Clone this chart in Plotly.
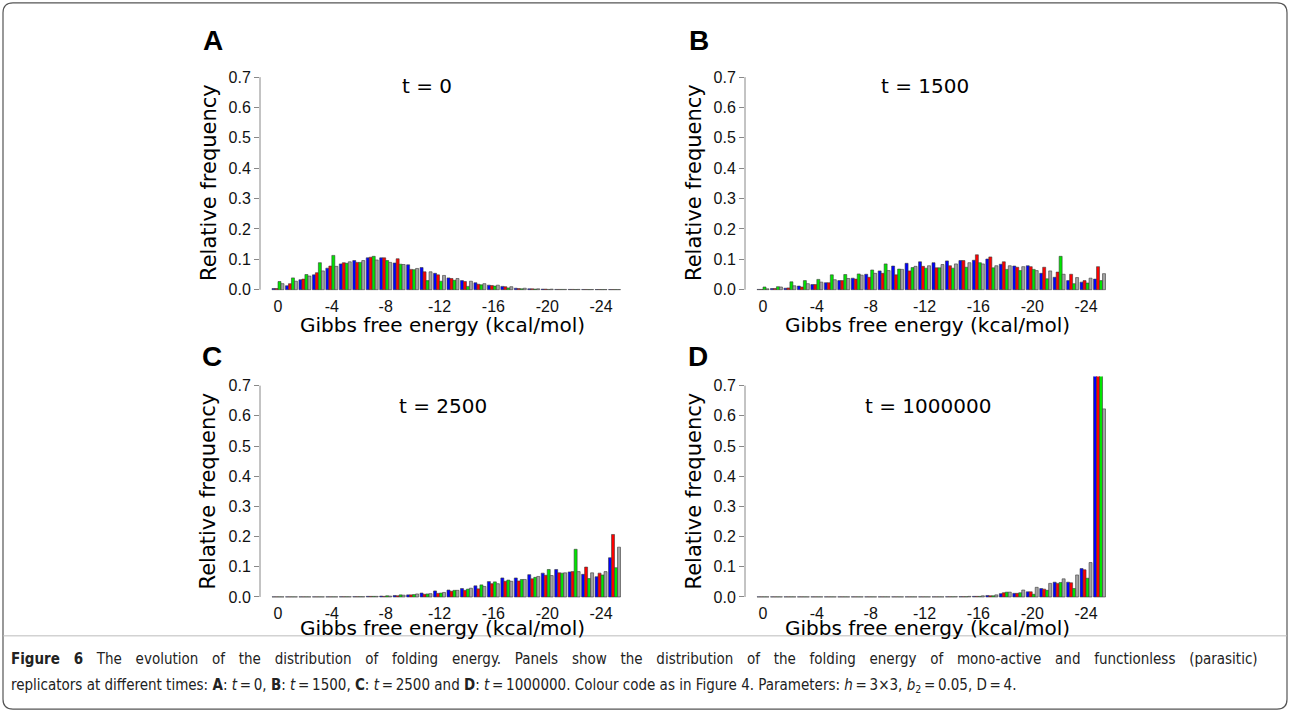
import plotly.graph_objects as go

# ---------------- data ----------------
energy = ["0", "-1", "-2", "-3", "-4", "-5", "-6", "-7", "-8", "-9", "-10", "-11", "-12",
          "-13", "-14", "-15", "-16", "-17", "-18", "-19", "-20", "-21", "-22", "-23", "-24", "-25"]
tick_vals = ["0", "-4", "-8", "-12", "-16", "-20", "-24"]
tick_text = ["0", "-4", "-8", "-12", "-16", "-20", "-24"]
series_names = ["blue", "red", "green", "gray"]
series_colors = ["#0000FF", "#FF0000", "#00E600", "#A3A3A3"]

A_blue = [0.004, 0.013, 0.033, 0.049, 0.071, 0.085, 0.096, 0.105, 0.105, 0.088, 0.082, 0.073, 0.054,
          0.039, 0.030, 0.023, 0.015, 0.011, 0.005, 0.003, 0.002, 0.001, 0.001, 0.0008, 0.0006, 0.0005]
A_red = [0.004, 0.020, 0.035, 0.056, 0.078, 0.089, 0.090, 0.107, 0.105, 0.102, 0.067, 0.059, 0.049,
         0.037, 0.027, 0.018, 0.014, 0.010, 0.004, 0.003, 0.002, 0.001, 0.001, 0.0008, 0.0006, 0.0005]
A_green = [0.027, 0.039, 0.050, 0.089, 0.113, 0.087, 0.090, 0.110, 0.096, 0.084, 0.066, 0.030, 0.028,
           0.031, 0.011, 0.016, 0.012, 0.006, 0.003, 0.002, 0.001, 0.001, 0.0008, 0.0006, 0.0005, 0.0005]
A_gray = [0.020, 0.028, 0.045, 0.062, 0.077, 0.092, 0.096, 0.098, 0.090, 0.083, 0.070, 0.059, 0.047,
          0.037, 0.028, 0.020, 0.015, 0.010, 0.005, 0.003, 0.002, 0.001, 0.001, 0.0008, 0.0006, 0.0005]

B_blue = [0.001, 0.004, 0.005, 0.012, 0.017, 0.023, 0.030, 0.038, 0.051, 0.062, 0.078, 0.087, 0.092,
          0.089, 0.095, 0.096, 0.097, 0.101, 0.084, 0.078, 0.079, 0.054, 0.041, 0.030, 0.025, 0.035]
B_red = [0.001, 0.004, 0.006, 0.009, 0.017, 0.023, 0.030, 0.035, 0.041, 0.054, 0.049, 0.062, 0.077,
         0.072, 0.079, 0.096, 0.115, 0.108, 0.092, 0.074, 0.076, 0.074, 0.058, 0.051, 0.030, 0.076]
B_green = [0.009, 0.010, 0.026, 0.030, 0.034, 0.049, 0.050, 0.052, 0.065, 0.085, 0.068, 0.073, 0.071,
           0.072, 0.071, 0.074, 0.089, 0.072, 0.067, 0.063, 0.067, 0.036, 0.110, 0.020, 0.022, 0.030]
B_gray = [0.003, 0.009, 0.013, 0.020, 0.025, 0.033, 0.037, 0.048, 0.054, 0.063, 0.067, 0.077, 0.079,
          0.083, 0.085, 0.089, 0.085, 0.079, 0.079, 0.076, 0.063, 0.062, 0.051, 0.040, 0.038, 0.053]

C_blue = [0.0005, 0.0005, 0.0005, 0.0005, 0.0006, 0.0008, 0.001, 0.002, 0.003, 0.005, 0.007, 0.013, 0.020,
          0.023, 0.028, 0.037, 0.051, 0.063, 0.063, 0.074, 0.079, 0.091, 0.083, 0.075, 0.067, 0.130]
C_red = [0.0005, 0.0005, 0.0005, 0.0005, 0.0006, 0.0008, 0.001, 0.002, 0.002, 0.004, 0.007, 0.009, 0.012,
         0.019, 0.022, 0.027, 0.044, 0.052, 0.053, 0.060, 0.072, 0.080, 0.084, 0.099, 0.079, 0.207]
C_green = [0.0005, 0.0005, 0.0005, 0.0005, 0.0006, 0.0008, 0.001, 0.002, 0.004, 0.007, 0.008, 0.010, 0.013,
           0.022, 0.026, 0.040, 0.050, 0.056, 0.058, 0.065, 0.091, 0.079, 0.158, 0.061, 0.073, 0.097]
C_gray = [0.0005, 0.0005, 0.0005, 0.0005, 0.0006, 0.0008, 0.001, 0.002, 0.003, 0.006, 0.010, 0.011, 0.015,
          0.022, 0.029, 0.035, 0.044, 0.052, 0.058, 0.068, 0.071, 0.080, 0.084, 0.080, 0.084, 0.165]

D_blue = [0.0005, 0.0005, 0.0005, 0.0005, 0.0005, 0.0005, 0.0005, 0.0005, 0.0005, 0.0005, 0.0005, 0.0005, 0.0005,
          0.0005, 0.0008, 0.001, 0.002, 0.005, 0.011, 0.012, 0.017, 0.028, 0.049, 0.049, 0.094, 0.760]
D_red = [0.0005, 0.0005, 0.0005, 0.0005, 0.0005, 0.0005, 0.0005, 0.0005, 0.0005, 0.0005, 0.0005, 0.0005, 0.0005,
         0.0005, 0.0008, 0.001, 0.002, 0.004, 0.014, 0.012, 0.017, 0.026, 0.045, 0.047, 0.090, 0.760]
D_green = [0.0005, 0.0005, 0.0005, 0.0005, 0.0005, 0.0005, 0.0005, 0.0005, 0.0005, 0.0005, 0.0005, 0.0005, 0.0005,
           0.0005, 0.0008, 0.001, 0.002, 0.004, 0.016, 0.014, 0.009, 0.022, 0.048, 0.028, 0.062, 0.760]
D_gray = [0.0005, 0.0005, 0.0005, 0.0005, 0.0005, 0.0005, 0.0005, 0.0005, 0.0005, 0.0005, 0.0005, 0.0005, 0.0005,
          0.0005, 0.001, 0.002, 0.004, 0.007, 0.016, 0.023, 0.032, 0.045, 0.060, 0.073, 0.114, 0.623]

panel_letters = ["A", "B", "C", "D"]
panel_times = ["t = 0", "t = 1500", "t = 2500", "t = 1000000"]
panel_data = [
    [A_blue, A_red, A_green, A_gray],
    [B_blue, B_red, B_green, B_gray],
    [C_blue, C_red, C_green, C_gray],
    [D_blue, D_red, D_green, D_gray],
]

x_title = "Gibbs free energy (kcal/mol)"
y_title = "Relative frequency"
y_ticks = [0.0, 0.1, 0.2, 0.3, 0.4, 0.5, 0.6, 0.7]

# caption words (line 1 is justified in the reference)
cap1_words = ["<b>Figure</b>", "<b>6</b>", "The", "evolution", "of", "the", "distribution", "of", "folding",
              "energy.", "Panels", "show", "the", "distribution", "of", "the", "folding", "energy", "of",
              "mono-active", "and", "functionless", "(parasitic)"]
thin = "\u2009"
cap2 = ("replicators at different times: <b>A</b>: <i>t</i>" + thin + "=" + thin + "0, <b>B</b>: <i>t</i>"
        + thin + "=" + thin + "1500, <b>C</b>: <i>t</i>" + thin + "=" + thin + "2500 and <b>D</b>: <i>t</i>"
        + thin + "=" + thin + "1000000. Colour code as in Figure 4. Parameters: <i>h</i>" + thin + "="
        + thin + "3×3, <i>b</i><sub>2</sub>" + thin + "=" + thin + "0.05, D" + thin + "=" + thin + "4.")

# ---------------- layout geometry (pixels) ----------------
W, H = 1290, 720
x_range = [-1.337, 25.6]
y_range = [-0.003, 0.73]
panel_x_px = [(260, 622.6), (745, 1107.6), (260, 622.6), (745, 1107.6)]
panel_y_px = [(68.8, 293.9), (68.8, 293.9), (380.8, 604.6), (380.8, 604.6)]
letter_pos = [(213, 41), (699, 41), (212, 361), (698, 361)]
time_pos = [(427, 87), (925, 87), (443, 411), (928, 411)]
ytitle_pos = [(209, 185), (694, 185), (208, 497), (694, 497)]
xtitle_pos = [(442, 329), (927, 329), (442, 635), (927, 635)]

fig = go.Figure()
annotations = []
shapes = []

for i in range(4):
    sfx = "" if i == 0 else str(i + 1)
    xa, ya = "x" + sfx, "y" + sfx
    for s in range(4):
        fig.add_trace(go.Bar(
            x=energy, y=panel_data[i][s], name=series_names[s],
            marker=dict(color=series_colors[s], line=dict(color="#3a3a3a", width=0.6)),
            xaxis=xa, yaxis=ya, showlegend=False, offsetgroup=str(s),
        ))
    x0, x1 = panel_x_px[i]
    yt, yb = panel_y_px[i]
    fig.layout["xaxis" + sfx] = dict(
        domain=[x0 / W, x1 / W], range=x_range, anchor=ya, type="category",
        categoryorder="array", categoryarray=energy,
        showline=False, showgrid=False, zeroline=False, ticks="",
        tickmode="array", tickvals=tick_vals, ticktext=tick_text, ticklabelstandoff=4,
        tickfont=dict(family="Liberation Sans, Arial", size=16, color="#111"),
    )
    fig.layout["yaxis" + sfx] = dict(
        domain=[1 - yb / H, 1 - yt / H], range=y_range, anchor=xa,
        showline=False, showgrid=False, zeroline=False,
        ticks="outside", ticklen=5, tickwidth=1, tickcolor="#888",
        tickmode="array", tickvals=y_ticks, tickformat=".1f",
        tickfont=dict(family="Liberation Sans, Arial", size=16, color="#111"),
    )
    # y-axis line spanning 0 .. 0.7 only
    shapes.append(dict(type="line", xref=xa + " domain", yref=ya,
                       x0=0, x1=0, y0=0, y1=0.7, line=dict(color="#888", width=1)))
    lx, ly = letter_pos[i]
    annotations.append(dict(text="<b>" + panel_letters[i] + "</b>", xref="paper", yref="paper",
                            x=lx / W, y=1 - ly / H, showarrow=False, xanchor="center", yanchor="middle",
                            font=dict(family="Liberation Sans, Arial", size=28, color="#000")))
    tx, ty = time_pos[i]
    annotations.append(dict(text=panel_times[i], xref="paper", yref="paper",
                            x=tx / W, y=1 - ty / H, showarrow=False, xanchor="center", yanchor="middle",
                            font=dict(family="DejaVu Sans", size=20, color="#000")))
    yx, yy = ytitle_pos[i]
    annotations.append(dict(text=y_title, xref="paper", yref="paper", textangle=-90,
                            x=yx / W, y=1 - yy / H, showarrow=False, xanchor="center", yanchor="middle",
                            font=dict(family="DejaVu Sans", size=21, color="#000")))
    xx, xy = xtitle_pos[i]
    annotations.append(dict(text=x_title, xref="paper", yref="paper",
                            x=xx / W, y=1 - xy / H, showarrow=False, xanchor="center", yanchor="middle",
                            font=dict(family="DejaVu Sans", size=20, color="#000")))

# caption
cap1 = " \u2002\u2009".join(cap1_words)
for txt, cy in [(cap1, 666), (cap2, 693)]:
    annotations.append(dict(text=txt, xref="paper", yref="paper", x=9 / W, y=1 - cy / H,
                            showarrow=False, xanchor="left", yanchor="middle",
                            font=dict(family="DejaVu Sans Condensed", size=15, color="#222")))

# frame with rounded corners and separator rule
def px(x):
    return x / W

def py(y):
    return 1 - y / H

l, r, t, b, rad = 3, 1287, 3, 717, 10
path = (f"M {px(l + rad)} {py(t)} L {px(r - rad)} {py(t)} Q {px(r)} {py(t)} {px(r)} {py(t + rad)} "
        f"L {px(r)} {py(b - rad)} Q {px(r)} {py(b)} {px(r - rad)} {py(b)} "
        f"L {px(l + rad)} {py(b)} Q {px(l)} {py(b)} {px(l)} {py(b - rad)} "
        f"L {px(l)} {py(t + rad)} Q {px(l)} {py(t)} {px(l + rad)} {py(t)} Z")
shapes.append(dict(type="path", xref="paper", yref="paper", path=path,
                   line=dict(color="#555", width=1.2)))
shapes.append(dict(type="line", xref="paper", yref="paper", x0=px(l), x1=px(r), y0=py(643), y1=py(643),
                   line=dict(color="#bbb", width=1)))

fig.update_layout(
    width=W, height=H, margin=dict(l=0, r=0, t=0, b=0),
    paper_bgcolor="white", plot_bgcolor="white",
    barmode="group", bargap=0.11, bargroupgap=0,
    annotations=annotations, shapes=shapes, showlegend=False,
)

fig.write_html("out.html")
